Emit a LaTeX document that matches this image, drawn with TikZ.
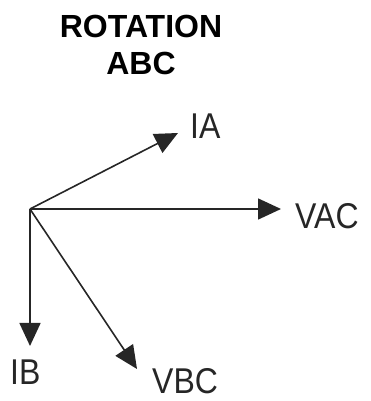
\documentclass[tikz,border=0pt]{standalone}
\usepackage{fontspec}
\setmainfont{Liberation Sans}
\usetikzlibrary{arrows.meta}
\begin{document}
\begin{tikzpicture}[x=1pt,y=1pt,
  vec/.style={line width=1.6pt, draw=black!85, -{Triangle[length=23pt,width=21pt]}},
  lbl/.style={anchor=west, inner sep=0pt, yscale=1.12, font=\fontsize{32}{36}\selectfont, text=black!85},
  ttl/.style={inner sep=0pt, font=\fontsize{32}{36}\selectfont\bfseries}]
\useasboundingbox (0,0) rectangle (370,401);
\node[ttl] (t1) at (141,374.5) {ROTATION};
\node[ttl] (t2) at (141,337.5) {ABC};
\coordinate (O) at (30,192);
\coordinate (tVAC) at (281,192);
\coordinate (tIB) at (30,55);
\coordinate (tVBC) at (137,32);
\coordinate (tIA) at (178,268);
\draw[vec] (O) -- (tVAC);
\draw[vec] (O) -- (tIB);
\draw[vec] (O) -- (tVBC);
\draw[vec] (O) -- (tIA);
\node[lbl] (VAC) at (295,185) {VAC};
\node[lbl] (IB) at (10,29) {IB};
\node[lbl] (VBC) at (152,20) {VBC};
\node[lbl] (IA) at (190,275) {IA};
\end{tikzpicture}
\end{document}
